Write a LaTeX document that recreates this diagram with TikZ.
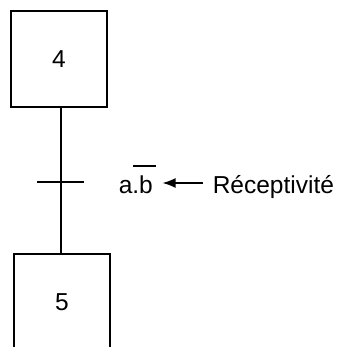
\documentclass[tikz,border=0pt]{standalone}
\usepackage{fontspec}
\setmainfont{Liberation Sans}
\usetikzlibrary{arrows.meta}
\begin{document}
\begin{tikzpicture}[x=1pt,y=-1pt,line width=1.5pt,
  stepbox/.style={draw, minimum width=96pt, minimum height=96pt, inner sep=0pt, font=\fontsize{24.5}{28}\selectfont},
  lbl/.style={inner sep=0pt, font=\fontsize{24.5}{28}\selectfont},
  link/.style={line width=1.5pt},
  pointer/.style={line width=1.5pt, -{Latex[length=13pt,width=10pt]}}]
\useasboundingbox (0,0) rectangle (344,347);
\node[stepbox] (s4) at (59,59) {4};
\begin{scope}
\clip (0,0) rectangle (344,347);
\node[stepbox] (s5) at (62,302) {5};
\end{scope}
\coordinate (top) at (61,107);
\coordinate (bot) at (61,254);
\draw[link] (top) -- (bot);
\coordinate (tl) at (37,182);
\coordinate (tr) at (84,182);
\draw[link] (tl) -- (tr);
\node[lbl, anchor=base west] (cond) at (118,193) {a.\makebox[0pt][l]{\kern-6pt\rule[26.3pt]{23pt}{1.5pt}}b};
\node[lbl, anchor=base west] (recep) at (212,193) {Réceptivité};
\draw[pointer] ([shift={(-9,-10)}]recep.base west) -- ([shift={(9,-10)}]cond.base east);
\end{tikzpicture}
\end{document}
